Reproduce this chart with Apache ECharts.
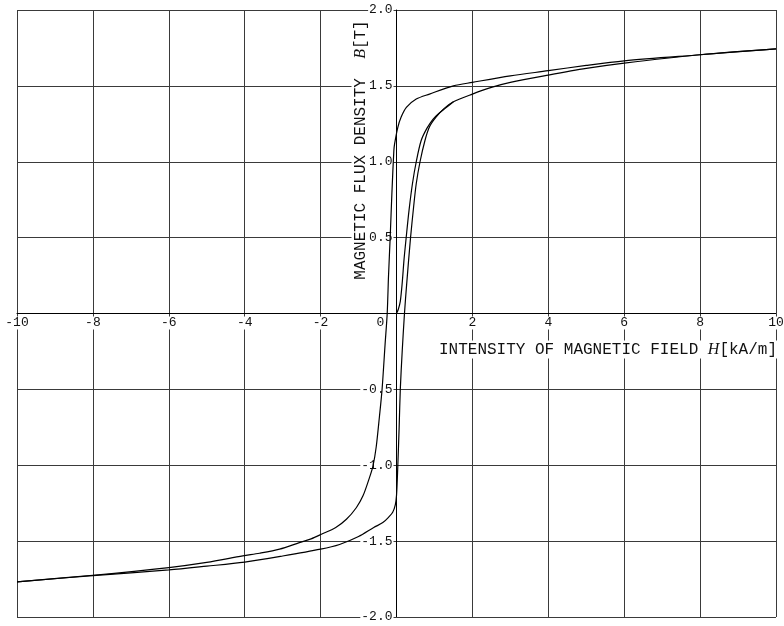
<!DOCTYPE html>
<html>
<head>
<meta charset="utf-8">
<script src="https://cdn.jsdelivr.net/npm/echarts@6/dist/echarts.min.js"></script>
<style>
  html, body { margin: 0; padding: 0; background: #fff; }
  #chart { width: 784px; height: 626px; }
</style>
</head>
<body>
<div id="chart"></div>
<script>
// Hysteresis loop: H in kA/m, B in T.
// Ascending branch (from negative saturation up to positive saturation)
const risingH = [-10, -8, -6, -5, -4, -3, -2, -1.5, -1.0, -0.6,
  -0.36, -0.2, -0.1, -0.03, 0, 0.02, 0.035, 0.07, 0.1, 0.15,
  0.21, 0.27, 0.37, 0.45, 0.52, 0.62, 0.75, 0.87, 1.03, 1.25,
  1.5, 2, 2.5, 3, 4, 5, 6, 8, 10];
const risingB = [-1.768, -1.727, -1.690, -1.665, -1.638, -1.598, -1.553, -1.522, -1.47, -1.41,
  -1.378, -1.34, -1.31, -1.26, -1.2, -1.1, -1.0, -0.75, -0.5, -0.25,
  0, 0.2, 0.5, 0.7, 0.855, 1.0, 1.14, 1.23, 1.29, 1.35,
  1.395, 1.446, 1.49, 1.523, 1.571, 1.615, 1.65, 1.705, 1.744];

// Descending branch (from positive saturation down to negative saturation)
const fallingH = [10, 8, 6, 5, 4, 3, 2, 1.5, 0.87, 0.52,
  0.26, 0.12, 0.035, -0.05, -0.07, -0.12, -0.166, -0.21, -0.245, -0.3,
  -0.38, -0.45, -0.535, -0.62, -0.71, -0.88, -1.06, -1.32, -1.6, -1.98,
  -2.25, -2.56, -3.08, -3.61, -4.05, -5, -6, -8, -10];
const fallingB = [1.744, 1.705, 1.665, 1.635, 1.600, 1.566, 1.523, 1.50, 1.446, 1.413,
  1.358, 1.293, 1.227, 1.118, 1.073, 0.8, 0.504, 0.25, 0, -0.2,
  -0.5, -0.68, -0.88, -1.006, -1.08, -1.2, -1.28, -1.356, -1.41, -1.455,
  -1.485, -1.51, -1.553, -1.580, -1.597, -1.64, -1.674, -1.725, -1.768];

// Initial magnetization curve starting at the origin
const initialH = [0, 0.05, 0.1, 0.15, 0.2, 0.255, 0.33, 0.42, 0.52, 0.65, 0.8, 0.96, 1.1, 1.3, 1.5];
const initialB = [0, 0.03, 0.08, 0.2, 0.36, 0.5, 0.68, 0.855, 1.0, 1.14, 1.22, 1.28, 1.315, 1.355, 1.395];

// Axis ranges and tick steps
const hRange = [-10, 10];
const hStep = 2;
const bRange = [-2, 2];
const bStep = 0.5;

const xTitleText = 'INTENSITY OF MAGNETIC FIELD ';
const xSymbol = 'H';
const xUnit = '[kA/m]';
const yTitleText = 'MAGNETIC FLUX DENSITY  ';
const ySymbol = 'B';
const yUnit = '[T]';
const originLabel = '0';

const MONO = '"Liberation Mono", "Courier New", monospace';
const SERIF = '"Liberation Serif", "DejaVu Serif", serif';

// Plot rectangle
const W = 784, H = 626;
const gridBox = { left: 17, right: 8, top: 10, bottom: 9 };
const plotW = W - gridBox.left - gridBox.right;
const plotH = H - gridBox.top - gridBox.bottom;
// Axes cross at the centre of the plot (both ranges are symmetric about zero)
const xAxisShift = -plotH * (0 - bRange[0]) / (bRange[1] - bRange[0]);
const yAxisShift = -plotW * (0 - hRange[0]) / (hRange[1] - hRange[0]);

function pairs(h, b) { return h.map((v, i) => [v, b[i]]); }

const chart = echarts.init(document.getElementById('chart'), null, { renderer: 'canvas' });

const curveStyle = { color: '#000', width: 1.2 };
function curve(name, h, b) {
  return {
    name, type: 'line', xAxisIndex: 0, yAxisIndex: 0,
    data: pairs(h, b), showSymbol: false, smooth: 0.3,
    lineStyle: curveStyle, z: 3, animation: false
  };
}

const gridLine = { show: true, lineStyle: { color: '#3a3a3a', width: 1 } };
const tickFont = { fontSize: 13, fontFamily: MONO, color: '#111', backgroundColor: '#fff', padding: [0, 1] };

chart.setOption({
  animation: false,
  backgroundColor: '#fff',
  grid: Object.assign({ containLabel: false, outerBoundsMode: 'none' }, gridBox),
  xAxis: [
    {
      type: 'value', min: hRange[0], max: hRange[1], interval: hStep, z: 1,
      position: 'bottom', offset: xAxisShift,
      axisLine: { onZero: false, lineStyle: { color: '#000', width: 1 } },
      axisTick: { show: false },
      splitLine: { show: false },
      axisLabel: Object.assign({ margin: 3, formatter: v => (v === 0 ? '' : String(v)) }, tickFont)
    },
    {
      type: 'value', min: hRange[0], max: hRange[1], interval: hStep, z: 0,
      axisLine: { show: false, onZero: false }, axisTick: { show: false }, axisLabel: { show: false },
      splitLine: gridLine
    }
  ],
  yAxis: [
    {
      type: 'value', min: bRange[0], max: bRange[1], interval: bStep, z: 1,
      position: 'left', offset: yAxisShift,
      axisLine: { onZero: false, lineStyle: { color: '#000', width: 1 } },
      axisTick: { show: false },
      splitLine: { show: false },
      axisLabel: Object.assign({ margin: 3, formatter: v => (v === 0 ? '' : v.toFixed(1)) }, tickFont)
    },
    {
      type: 'value', min: bRange[0], max: bRange[1], interval: bStep, z: 0,
      axisLine: { show: false, onZero: false }, axisTick: { show: false }, axisLabel: { show: false },
      splitLine: gridLine
    }
  ],
  series: [
    curve('rising', risingH, risingB),
    curve('falling', fallingH, fallingB),
    curve('initial', initialH, initialB)
  ]
});

// Axis titles and the shared origin label, anchored to the axes
const origin = chart.convertToPixel({ xAxisIndex: 0, yAxisIndex: 0 }, [0, 0]);
const rightEnd = chart.convertToPixel({ xAxisIndex: 0, yAxisIndex: 0 }, [hRange[1], 0]);
const topEnd = chart.convertToPixel({ xAxisIndex: 0, yAxisIndex: 0 }, [0, bRange[1]]);

chart.setOption({
  graphic: [
    {
      type: 'text', z: 5,
      x: rightEnd[0] + 2, y: origin[1] + 36,
      style: {
        text: '{a|' + xTitleText + '}{b|' + xSymbol + '}{a|' + xUnit + '}',
        rich: {
          a: { fontFamily: MONO, fontSize: 16, fill: '#111' },
          b: { fontFamily: SERIF, fontStyle: 'italic', fontSize: 16, fill: '#111' }
        },
        align: 'right', verticalAlign: 'middle',
        backgroundColor: '#fff', padding: [1, 1]
      }
    },
    {
      type: 'text', z: 5,
      x: origin[0] - 36, y: topEnd[1] + 140,
      rotation: Math.PI / 2,
      style: {
        text: '{a|' + yTitleText + '}{b|' + ySymbol + '}{a|' + yUnit + '}',
        rich: {
          a: { fontFamily: MONO, fontSize: 16, fill: '#111' },
          b: { fontFamily: SERIF, fontStyle: 'italic', fontSize: 16, fill: '#111' }
        },
        align: 'center', verticalAlign: 'middle',
        backgroundColor: '#fff', padding: [1, 1]
      }
    },
    {
      type: 'text', z: 5,
      x: origin[0] - 16, y: origin[1] + 9,
      style: {
        text: originLabel, fontFamily: MONO, fontSize: 13, fill: '#111',
        align: 'center', verticalAlign: 'middle'
      }
    }
  ]
});
</script>
</body>
</html>
